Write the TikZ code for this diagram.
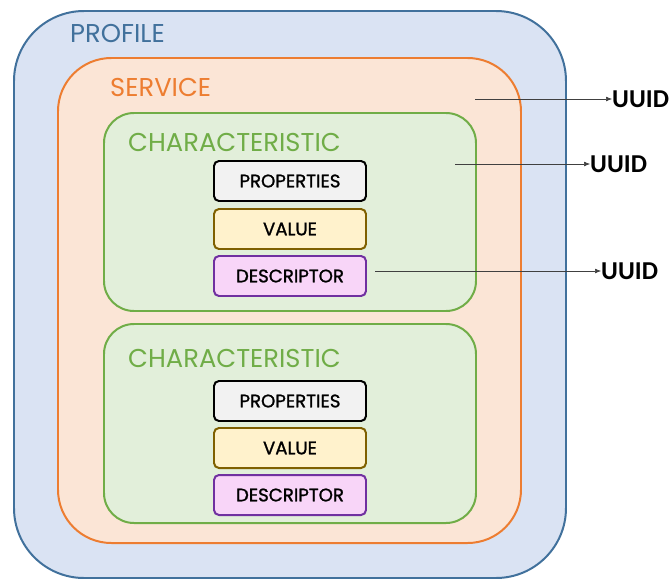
\documentclass[tikz,border=0pt]{standalone}
\usepackage{fontspec}
\setmainfont{Carlito}
\newfontfamily\geo{Poppins}
\newfontfamily\geob[FakeBold=1.2]{Poppins}
\usetikzlibrary{arrows.meta}
\definecolor{profD}{HTML}{41719C}
\definecolor{profF}{HTML}{DAE3F3}
\definecolor{servD}{HTML}{ED7D31}
\definecolor{servF}{HTML}{FBE5D6}
\definecolor{charD}{HTML}{70AD47}
\definecolor{charF}{HTML}{E2EFDA}
\definecolor{propF}{HTML}{F2F2F2}
\definecolor{valD}{HTML}{7F6000}
\definecolor{valF}{HTML}{FFF2CC}
\definecolor{desD}{HTML}{7030A0}
\definecolor{desF}{HTML}{F8D5F8}
\begin{document}
\begin{tikzpicture}[x=0.03cm,y=-0.03cm,
  container/.style={draw=#1, line width=1.7pt, anchor=north west, inner sep=0pt},
  itembox/.style={rectangle, rounded corners=0.15cm, line width=1.7pt, anchor=north west,
     minimum width={152*0.03cm}, minimum height={40*0.03cm}, inner sep=0pt,
     font=\geob\fontsize{15.5}{16}\selectfont},
  lbl/.style={anchor=west, inner sep=0pt, font=\geo\fontsize{22}{24}\selectfont},
  uuid/.style={anchor=west, inner sep=0pt, font=\bfseries\fontsize{22}{24}\selectfont},
  link/.style={-{Latex[length=5pt,width=4pt]}, line width=0.5pt, black!75}]
\useasboundingbox (0,0) rectangle (669,578);
\node[container=profD, fill=profF, rounded corners=2.1cm, minimum width={552*0.03cm}, minimum height={567*0.03cm}] (profile) at (13,10) {};
\node[container=servD, fill=servF, rounded corners=1.6cm, minimum width={463*0.03cm}, minimum height={485*0.03cm}] (service) at (57,57) {};
\node[container=charD, fill=charF, rounded corners=0.9cm, minimum width={372*0.03cm}, minimum height={198*0.03cm}] (char1) at (103,112) {};
\node[container=charD, fill=charF, rounded corners=0.9cm, minimum width={372*0.03cm}, minimum height={199*0.03cm}] (char2) at (103,323) {};
\node[lbl, text=profD] (profl) at (70,34) {PROFILE};
\node[lbl, text=servD] (servl) at (110,87) {SERVICE};
\node[lbl, text=charD] (charl1) at (128,142) {CHARACTERISTIC};
\node[lbl, text=charD] (charl2) at (128,358) {CHARACTERISTIC};
\node[itembox, draw=black, fill=propF] (prop1) at (213,160) {PROPERTIES};
\node[itembox, draw=valD, fill=valF] (val1) at (213,208) {VALUE};
\node[itembox, draw=desD, fill=desF] (des1) at (213,255) {DESCRIPTOR};
\node[itembox, draw=black, fill=propF] (prop2) at (213,380) {PROPERTIES};
\node[itembox, draw=valD, fill=valF] (val2) at (213,427) {VALUE};
\node[itembox, draw=desD, fill=desF] (des2) at (213,474) {DESCRIPTOR};
\node[uuid] (u1) at (612,99) {UUID};
\node[uuid] (u2) at (590,164) {UUID};
\node[uuid] (u3) at (601,271) {UUID};
\coordinate (s1) at (475,99);
\coordinate (s2) at (455,164);
\coordinate (s3) at (375,271);
\draw[link] (s1) -- (u1.west);
\draw[link] (s2) -- (u2.west);
\draw[link] (s3) -- (u3.west);
\end{tikzpicture}
\end{document}
